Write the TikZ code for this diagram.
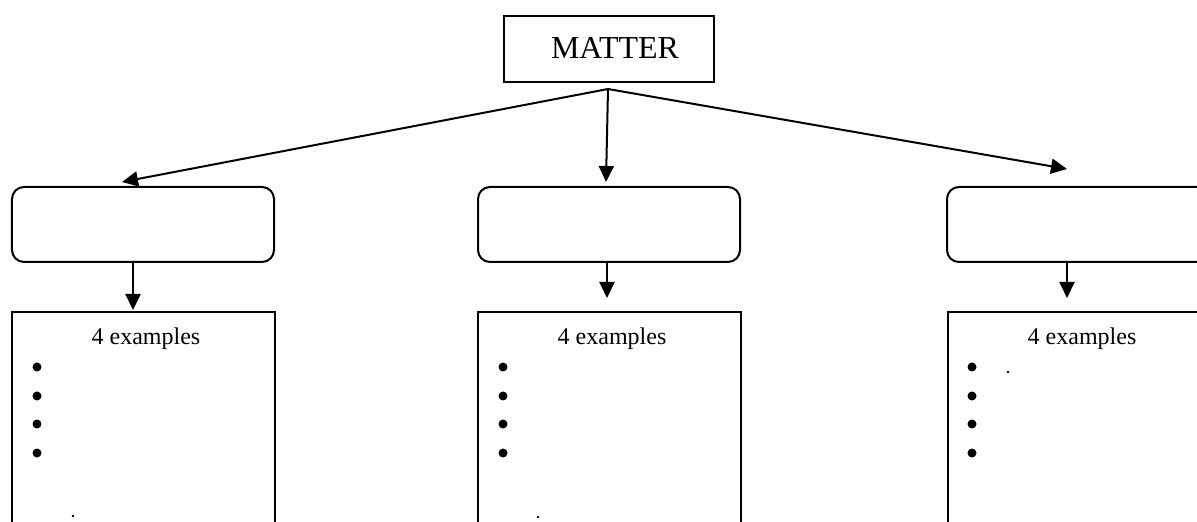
\documentclass[tikz,border=0pt]{standalone}
\usepackage{fontspec}
\setmainfont{Liberation Serif}
\usetikzlibrary{arrows.meta}
\begin{document}
\begin{tikzpicture}[x=1bp,y=-1bp,
  line width=2bp,
  arr/.style={-{Triangle[length=16bp,width=15bp]}},
  titlebox/.style={draw,rectangle,minimum width=210bp,minimum height=66bp,inner sep=0pt,
    font=\fontsize{32bp}{38bp}\selectfont},
  catbox/.style={draw,rectangle,rounded corners=12bp,minimum width=262bp,minimum height=75bp,inner sep=0pt},
  listbox/.style={draw,rectangle,minimum width=263bp,minimum height=260bp,inner sep=0pt,anchor=north west},
  heading/.style={anchor=base,inner sep=0pt,font=\fontsize{24bp}{29bp}\selectfont},
  bullet/.style={fill=black}]
\clip (0,0) rectangle (1197,522);

% title and the three category boxes
\node[titlebox] (matter) at (609,49) {\hspace{12bp}\raisebox{2bp}{MATTER}};
\node[catbox] (cat1) at (143,224.5) {};
\node[catbox] (cat2) at (609,224.5) {};
\node[catbox] (cat3) at (1078,224.5) {};

% example lists
\node[listbox] (ex1) at (11,311) {};
\node[listbox] (ex2) at (477,311) {};
\node[listbox] (ex3) at (947,311) {};

% branching arrows from the title
\coordinate (hub) at (608,89);
\coordinate (t1) at (122,182);
\coordinate (t2) at (606,182);
\coordinate (t3) at (1067,169);
\draw[arr] (hub) -- (t1);
\draw[arr] (hub) -- (t2);
\draw[arr] (hub) -- (t3);

% arrows from categories to lists
\coordinate (d1) at (133,310);
\coordinate (d2) at (607,298);
\coordinate (d3) at (1067,298);
\draw[arr] (cat1.south -| d1) -- (d1);
\draw[arr] (cat2.south -| d2) -- (d2);
\draw[arr] (cat3.south -| d3) -- (d3);

% list headings
\node[heading] (h1) at (146,345) {4 examples};
\node[heading] (h2) at (612,345) {4 examples};
\node[heading] (h3) at (1082,345) {4 examples};

% bullets
\foreach \bx in {37,503,972}
  \foreach \by in {367,396,424,453}
    \fill[bullet] (\bx,\by) circle (4.5bp);

% stray full stops
\fill (73,516) circle (1.3bp);
\fill (538,517) circle (1.3bp);
\fill (1008,372) circle (1.3bp);
\end{tikzpicture}
\end{document}
